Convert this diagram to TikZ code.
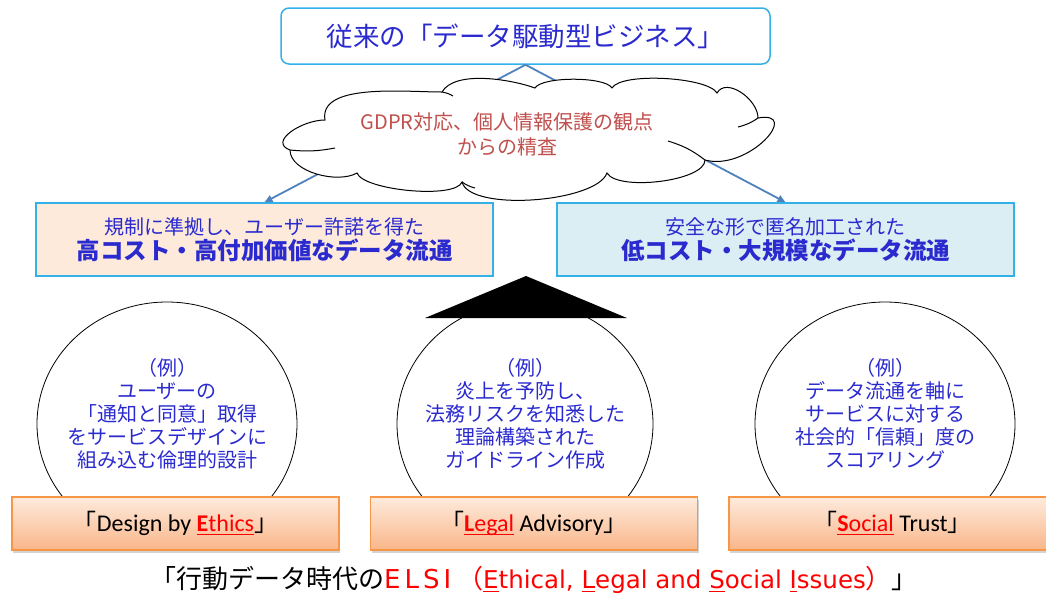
\documentclass[tikz,border=0pt]{standalone}
\usepackage{fontspec}
\usetikzlibrary{arrows.meta,shapes.geometric,shadows}
\newfontfamily\jpfont{Noto Sans CJK JP}
\newfontfamily\calfont{Carlito}
\newfontfamily\latfont{DejaVu Sans}
\newsavebox\ulbox
\newcommand\ulword[1]{\sbox\ulbox{#1}\rlap{\rule[-3.5pt]{\wd\ulbox}{1.1pt}}\usebox\ulbox}
\definecolor{textblue}{HTML}{2A2ACF}
\definecolor{lineblue}{HTML}{33B2E8}
\definecolor{arrowblue}{HTML}{4F81BD}
\definecolor{cloudred}{HTML}{C0504D}
\definecolor{peach}{HTML}{FDEADA}
\definecolor{paleblue}{HTML}{DBEEF4}
\definecolor{boxtop}{HTML}{FEEBDD}
\definecolor{boxbottom}{HTML}{F9B689}
\definecolor{boxline}{HTML}{F79646}
\tikzset{
  topbox/.style={draw=lineblue, line width=1.5pt, rounded corners=8pt, fill=white,
    minimum width=489pt, minimum height=56pt, text=textblue,
    font=\jpfont\fontsize{26.5}{30}\selectfont},
  flowbox/.style={draw=lineblue, line width=1.5pt, minimum width=457pt,
    minimum height=73pt, align=center, text=textblue,
    font=\jpfont\fontsize{20}{25}\selectfont},
  flowarrow/.style={-{Triangle[length=8pt,width=7pt]}, draw=arrowblue, line width=1.8pt},
  cloudline/.style={draw, line width=1pt, fill=white},
  pillar/.style={ellipse, draw, line width=0.8pt, minimum width=260pt,
    minimum height=244pt, inner sep=0pt},
  pillartext/.style={align=center, text=textblue,
    font=\jpfont\fontsize{20}{23}\selectfont},
  elsibox/.style={draw=boxline, line width=1.2pt, top color=boxtop,
    bottom color=boxbottom, minimum width=327pt, minimum height=53pt,
    drop shadow={shadow xshift=1pt, shadow yshift=-3pt, opacity=0.35},
    font=\calfont\fontsize{24}{28}\selectfont}
}
\begin{document}
\begin{tikzpicture}[x=1pt,y=-1pt]
    \useasboundingbox (0,0) rectangle (1046,598);

    % Boxes on top
    \node[topbox] (former) at (525.5,36) {従来の「データ駆動型ビジネス」};
    \node[flowbox, fill=peach] (highcost) at (264.5,239.5)
      {規制に準拠し、ユーザー許諾を得た\\{\fontsize{23.5}{25}\selectfont\bfseries 高コスト・高付加価値なデータ流通}};
    \node[flowbox, fill=paleblue] (lowcost) at (785.5,239.5)
      {安全な形で匿名加工された\\{\fontsize{23.5}{25}\selectfont\bfseries 低コスト・大規模なデータ流通}};

    % Arrows behind the cloud
    \draw[flowarrow] (former.south) -- (highcost.north);
    \draw[flowarrow] (former.south) -- (lowcost.north);

    % Cloud
    \filldraw[cloudline] (325,120)
      to[out=100,in=180,looseness=0.8] (442,92)
      to[out=60,in=160,looseness=0.7] (535,88)
      to[out=60,in=120,looseness=0.45] (612,88)
      to[out=60,in=120,looseness=0.45] (717,93)
      to[out=60,in=90] (758,118)
      to[out=10,in=-15,looseness=1.7] (705,160)
      to[out=-90,in=-60,looseness=0.55] (607,173)
      to[out=-110,in=-75,looseness=0.55] (462,182)
      to[out=-110,in=-70,looseness=0.45] (357,173)
      to[out=-150,in=-90,looseness=0.8] (290,150)
      to[out=160,in=180,looseness=1.3] (325,120) -- cycle;
    \draw[line width=1pt] (290,150) to[bend right=8] (335,148);
    \draw[line width=1pt] (705,160) to[bend right=10] (668,141);
    \draw[line width=1pt] (758,118) to[bend left=10] (738,127);
    \draw[line width=1pt] (462,182) to[bend right=10] (475,188);
    \draw[line width=1pt] (442,92) to[bend left=10] (453,96);
    \node[align=center, text=cloudred, font=\jpfont\fontsize{20}{25}\selectfont]
      (gdpr) at (507,134) {GDPR対応、個人情報保護の観点\\からの精査};

    % Three pillars
    \node[pillar] (ethics) at (167,424) {};
    \node[pillar, minimum width=256pt] (legal) at (525,424) {};
    \node[pillar] (social) at (885,424) {};
    \node[pillartext] (ethicsnote) at ([yshift=10pt]ethics.center)
      {（例）\\ユーザーの\\「通知と同意」取得\\をサービスデザインに\\組み込む倫理的設計};
    \node[pillartext] (legalnote) at ([yshift=10pt]legal.center)
      {（例）\\炎上を予防し、\\法務リスクを知悉した\\理論構築された\\ガイドライン作成};
    \node[pillartext] (socialnote) at ([yshift=10pt]social.center)
      {（例）\\データ流通を軸に\\サービスに対する\\社会的「信頼」度の\\スコアリング};

    % Fulcrum
    \fill (526,276) -- (627,318) -- (425,318) -- cycle;

    % ELSI boxes
    \node[elsibox] (design) at (175.5,523.5)
      {{\jpfont 「}Design by \textcolor{red}{\ulword{\textbf{E}thics}}{\jpfont 」}};
    \node[elsibox] (advisory) at (534,523.5)
      {{\jpfont 「}\textcolor{red}{\ulword{\textbf{L}egal}} Advisory{\jpfont 」}};
    \node[elsibox] (trust) at (892.5,523.5)
      {{\jpfont 「}\textcolor{red}{\ulword{\textbf{S}ocial}} Trust{\jpfont 」}};

    % Caption
    \node[font=\jpfont\fontsize{26}{30}\selectfont] (caption) at (534,580)
      {「行動データ時代の\textcolor{red}{{\latfont E\kern4pt L\kern4pt S\kern4pt I}\hspace{6pt}（{\latfont\fontsize{24.5}{30}\selectfont
       \ulword{E}thical, \ulword{L}egal and \ulword{S}ocial \ulword{I}ssues}）}」};

\end{tikzpicture}
\end{document}
